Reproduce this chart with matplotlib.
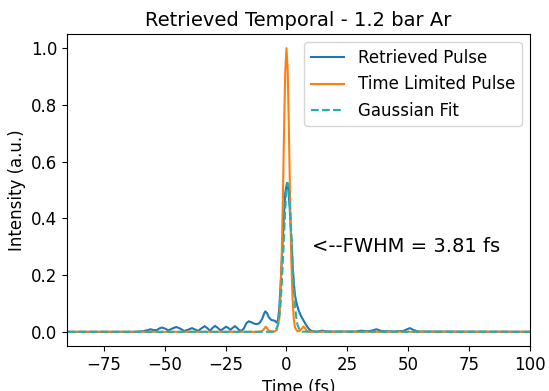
import matplotlib
matplotlib.use("Agg")
import matplotlib.pyplot as plt

# Retrieved pulse
t_ret = [-90, -62, -59, -57, -55.8, -54.5, -53.3, -52.2, -51.2, -50, -48.5, -46.8, -45.3, -43.8,
         -42, -40.2, -38.8, -37.5, -36.3, -34.8, -33.6, -32.4, -31.4, -30.3, -29.3, -28.1,
         -27, -25.8, -24.8, -23.8, -23, -22.1, -21.2, -20.2, -19.3, -18.3, -17.5, -16.5,
         -15.5, -14.5, -13.3, -12.3, -11.2, -10, -9.3, -8.7, -8, -7.3, -6.3, -5.3, -4.6,
         -4, -3.5, -3, -2.5, -2, -1.5, -1, -0.5, 0.2, 0.8, 1.3, 2, 2.5, 3, 3.5,
         4, 5, 6, 7, 8, 9, 10, 11.5, 13, 14.7, 16.5, 28, 30.6, 33, 35, 36.9, 39, 44,
         48, 49.5, 50.7, 52, 54, 100]
i_ret = [0, 0, 0.002, 0.006, 0.009, 0.006, 0.006, 0.012, 0.015, 0.012, 0.005, 0.012, 0.017,
         0.012, 0.003, 0.008, 0.013, 0.008, 0.003, 0.013, 0.02, 0.012, 0.004, 0.014, 0.021,
         0.013, 0.005, 0.012, 0.018, 0.013, 0.007, 0.014, 0.02, 0.013, 0.005, 0.004, 0.012,
         0.03, 0.037, 0.034, 0.029, 0.027, 0.03, 0.045, 0.062, 0.072, 0.066, 0.052, 0.042,
         0.04, 0.038, 0.032, 0.04, 0.08, 0.15, 0.24, 0.33, 0.42, 0.49, 0.525, 0.50, 0.44,
         0.33, 0.24, 0.17, 0.13, 0.105, 0.075, 0.055, 0.04, 0.025, 0.012, 0.004, 0.001,
         0.001, 0.004, 0.001, 0.001, 0.004, 0.002, 0.004, 0.009, 0.003, 0.001, 0.003, 0.009,
         0.013, 0.007, 0.001, 0]

# Time limited pulse
t_tl = [-90, -12, -10, -8.5, -7, -5, -4, -3, -2.5, -2, -1.5, -1, -0.5, 0, 0.5, 1, 1.5, 2,
        2.5, 3, 3.5, 4.5, 5.5, 7, 8.5, 10, 100]
i_tl = [0, 0, 0.002, 0.018, 0.002, 0.001, 0.006, 0.044, 0.114, 0.25, 0.46, 0.71, 0.92, 1.0,
        0.92, 0.71, 0.46, 0.25, 0.114, 0.044, 0.015, 0.002, 0.003, 0.019, 0.002, 0, 0]

# Gaussian fit
t_fit = [-90, -6.5, -5.5, -4.5, -3.5, -3, -2.5, -2, -1.5, -1, -0.5, 0, 0.5, 1, 1.5, 2, 2.5,
         3, 3.5, 4, 4.5, 5.5, 6.5, 100]
i_fit = [0, 0, 0.0005, 0.0045, 0.025, 0.051, 0.094, 0.159, 0.245, 0.342, 0.434, 0.500, 0.525,
         0.500, 0.434, 0.342, 0.245, 0.159, 0.094, 0.051, 0.025, 0.0045, 0.0005, 0]

fig = plt.figure(figsize=(5.49, 3.91), dpi=100)
ax = fig.add_axes([0.1226, 0.1151, 0.8428, 0.7979])
ax.plot(t_ret, i_ret, color='#1f77b4', lw=1.5, label='Retrieved Pulse')
ax.plot(t_tl, i_tl, color='#ff7f0e', lw=1.5, label='Time Limited Pulse')
ax.plot(t_fit, i_fit, color='lightseagreen', lw=1.5, ls='--', label='Gaussian Fit')
ax.set_xlim(-90, 100)
ax.set_title('Retrieved Temporal - 1.2 bar Ar', fontsize=14)
ax.set_xlabel('Time (fs)', fontsize=12)
ax.set_ylabel('Intensity (a.u.)', fontsize=12)
ax.tick_params(labelsize=12)
ax.text(10.5, 0.3, '<--FWHM = 3.81 fs', fontsize=14, ha='left', va='center')
ax.legend(loc='upper right', fontsize=12)
fig.savefig('out.png', dpi=100)
